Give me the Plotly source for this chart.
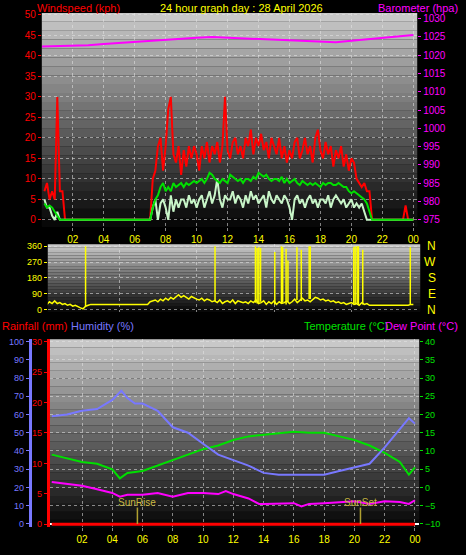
import plotly.graph_objects as go

# ---------------- DATA ----------------
# wind, 10-minute samples; each row = hour N, times N:10 .. N+1:00
gust_rows = [
 [7,9,5,7,5,30],[7,7,0,0,0,0],[0]*6,[0]*6,[0]*6,[0]*6,[0]*6,
 [10,12,18,20,12,18],[27,30,16,14,18,11],[17,13,18,15,18,16],[12,18,15,19,14,18],
 [16,19,14,18,30,17],[15,19,20,16,18,15],[20,18,22,16,20,18],[21,17,19,15,20,18],
 [16,20,15,18,14,17],[15,19,20,15,17,20],[16,18,14,20,22,17],[15,19,16,18,13,17],
 [15,18,13,16,12,15],[14,10,9,8,9,7],[7,0,0,0,0,0],[0]*6,[0,0,3.5,0,0,0]]
avg_rows = [
 [4,3,3.5,3,2,1],[0]*6,[0]*6,[0]*6,[0]*6,[0]*6,[0]*6,
 [3,5,6,8,9,7],[8,7,9,8,8.5,9],[8,9,8.5,9,9.5,9],[9.5,10,9,10,11.5,11],
 [10,9.5,9,10,9.5,9],[11,10.5,10,9.5,10,9],[10,10,9.5,10.5,10,11.5],[11,10.5,11,10,9.5,10],
 [10,9.5,10.5,9,10,9],[9.5,10,9,8.5,9.5,9],[8.5,9,8.5,9,8.5,8],[9,8.5,9,9,8.5,8.5],
 [9,8.5,8,8,7,6.5],[7,6.5,6,5.5,5,4],[2,0,0,0,0,0],[0]*6,[0]*6]
speed_rows = [
 [5,3,3,1,0,2],[0]*6,[0]*6,[0]*6,[0]*6,[0]*6,[0]*6,
 [3,5,0,4,5,3],[0,6,2,5,3,5],[5,3,6,4,5,3],[5,6,3,5,7,4],
 [6,10,5,3,6,5],[5,7,4,6,5,3],[6,4,7,5,6,4],[5,6,3,7,5,4],
 [6,5,4,6,5,3],[0,5,6,4,5,3],[5,6,4,5,3,5],[5,4,6,3,5,6],
 [5,4,5,3,4,5],[3,4,3,4,2,0],[0]*6,[0]*6,[0]*6]
dir_rows = [
 [40,30,45,35,50,35],[40,30,35,25,30,20],[25,15,10,5,20,25],[30]*6,[30]*6,[30]*6,
 [30,30,30,30,30,45],[50,55,45,60,50,65],[55,70,60,75,85,70],[80,70,60,75,65,60],
 [55,65,50,60,55,45],[50,40,55,35,45,50],[40,55,35,50,45,40],[45,35,50,40,55,35],
 [40,50,30,45,35,50],[30,45,35,40,50,35],[45,60,40,55,65,50],[55,45,60,70,65,55],
 [60,50,55,45,50,40],[45,35,40,30,35,40],[30,35,25,40,30,35],[25]*6,[25]*6,
 [25,25,25,25,30,30]]
spike_hours = [2.83,11.19,13.8,13.91,14.02,14.13,15.05,15.48,15.56,15.78,15.9,
               16.48,16.76,17.27,17.34,20.15,20.24,20.37,20.45,20.73,23.8]
spike_tops = [360,360,360,350,355,350,328,360,355,345,280,355,340,360,360,355,360,360,360,340,355]
spike_base = [20,50,40,35,40,45,30,35,40,30,45,55,50,60,60,35,30,35,30,30,30]

baro_hours = list(range(25))
baro = [1022.3,1022.4,1022.5,1022.7,1023.0,1023.3,1023.7,1024.0,1024.3,1024.5,1024.7,1024.9,
        1024.7,1024.6,1024.5,1024.2,1024.0,1023.7,1023.5,1023.5,1023.9,1024.3,1024.7,1025.1,1025.5]

th_hours = [0,1,2,3,4,4.6,5,5.5,6,7,8,9,10,11,12,13,14,15,16,17,18,19,20,21,22,23,23.6,24]
humidity = [59,60,62,63,68,73,69,66,66,62,53,50,44,38,35,32,28,27,27,27,27,29,31,33,42,52,58,55]
temp_hours = [0,1,2,3,4,4.5,5,6,7,8,9,10,11,12,13,14,15,16,17,18,19,20,21,22,23,23.6,24]
temperature = [9,8,7,6.5,5,2.5,4,4.5,6,7.5,9,10.5,11.5,13,14,14.5,15,15.3,15,15,14,13,11.5,9.5,7,3.5,5.5]
dew_hours = [0,1,2,3,4,4.5,5,6,7,8,9,10,11,11.5,12,13,13.7,14,15,16,16.5,17,18,19,20,21,22,23,23.6,24]
dewpoint = [1.5,1,0.5,-0.5,-1.5,-2.5,-2,-2,-1.5,-2.5,-1.5,-1.5,-1.8,-1,-1.8,-3,-4.5,-4.5,-4.5,-4.3,
            -5.2,-4.5,-4.3,-4,-3.8,-4.5,-3.8,-4,-4.5,-3.5]
rain_hours = [0, 24]
rain = [0, 0]
sunrise, sunset = 5.66, 20.4

tick_vals = [2,4,6,8,10,12,14,16,18,20,22,24]
tick_text = ["02","04","06","08","10","12","14","16","18","20","22","00"]

def flat(rows):
    return [v for r in rows for v in r]
t10 = [(i + 1) / 6 for i in range(144)]
gust, avg, speed, wdir = flat(gust_rows), flat(avg_rows), flat(speed_rows), flat(dir_rows)

# ---------------- FIGURE ----------------
RED, MAG, YEL, GRN, BLU = "#ff0000", "#ff00ff", "#ffff00", "#00e000", "#7878ff"
fig = go.Figure()
fig.add_trace(go.Scatter(x=t10, y=gust, mode="lines", line=dict(color=RED, width=2), xaxis="x", yaxis="y"))
fig.add_trace(go.Scatter(x=t10, y=speed, mode="lines", line=dict(color="#c8f5c8", width=2), xaxis="x", yaxis="y"))
fig.add_trace(go.Scatter(x=t10, y=avg, mode="lines", line=dict(color=GRN, width=2), xaxis="x", yaxis="y"))
fig.add_trace(go.Scatter(x=baro_hours, y=baro, mode="lines", line=dict(color=MAG, width=2), xaxis="x", yaxis="y2"))

fig.add_trace(go.Scatter(x=t10, y=wdir, mode="lines", line=dict(color=YEL, width=1.5), xaxis="x2", yaxis="y3"))
sx, sy = [], []
for h, b, tp in zip(spike_hours, spike_base, spike_tops):
    sx += [h, h, None]; sy += [b, tp, None]
fig.add_trace(go.Scatter(x=sx, y=sy, mode="lines", line=dict(color=YEL, width=1.5), xaxis="x2", yaxis="y3"))

fig.add_trace(go.Scatter(x=rain_hours, y=rain, mode="lines", line=dict(color=RED, width=3), xaxis="x3", yaxis="y5"))
fig.add_trace(go.Scatter(x=th_hours, y=humidity, mode="lines", line=dict(color=BLU, width=2), xaxis="x3", yaxis="y4"))
fig.add_trace(go.Scatter(x=temp_hours, y=temperature, mode="lines", line=dict(color=GRN, width=2), xaxis="x3", yaxis="y6"))
fig.add_trace(go.Scatter(x=dew_hours, y=dewpoint, mode="lines", line=dict(color=MAG, width=2), xaxis="x3", yaxis="y6"))

W, H = 466, 555
def dom(top, bot): return [1 - bot / H, 1 - top / H]
grid = dict(showgrid=True, gridcolor="rgba(230,230,230,0.55)", griddash="dot", gridwidth=1, zeroline=False)
xcommon = dict(tickvals=tick_vals, ticktext=tick_text, tickfont=dict(color=YEL, size=10, family="Liberation Sans"),
               ticks="outside", ticklen=3, tickcolor="#888", **grid)

fig.update_layout(
    width=W, height=H, margin=dict(l=0, r=0, t=0, b=0), showlegend=False,
    paper_bgcolor="black", plot_bgcolor="#101010",
    xaxis=dict(domain=[42/W, 419/W], range=[0, 24.25], anchor="y", **xcommon),
    yaxis=dict(domain=dom(10, 226), range=[-1.63, 50.5], tickvals=list(range(0, 51, 5)),
               tickfont=dict(color=RED, size=10, family="Liberation Sans"), ticks="outside", ticklen=3, tickcolor=RED, **grid),
    yaxis2=dict(overlaying="y", side="right", anchor="x", range=[973.2, 1031.5], tickvals=list(range(975, 1031, 5)),
                tickfont=dict(color=MAG, size=10, family="Liberation Sans"), ticks="outside", ticklen=3, tickcolor=MAG, showgrid=False),
    xaxis2=dict(domain=[48/W, 422/W], range=[0.39, 24.44], anchor="y3", showticklabels=False, **grid),
    yaxis3=dict(domain=dom(244, 312), range=[-11, 371], tickvals=[0, 90, 180, 270, 360], anchor="x2",
                tickfont=dict(color=YEL, size=9, family="Liberation Sans"), ticks="outside", ticklen=3, tickcolor=YEL, **grid),
    xaxis3=dict(domain=[50/W, 421/W], range=[-0.13, 24.28], anchor="y6", **xcommon),
    yaxis6=dict(domain=dom(340, 530), range=[-10.9, 40.6], tickvals=list(range(-10, 41, 5)), side="right", anchor="x3",
                tickfont=dict(color=GRN, size=9, family="Liberation Sans"), ticks="outside", ticklen=3, tickcolor=GRN, **grid),
    yaxis4=dict(overlaying="y6", anchor="free", position=30/W, side="left", range=[-1.8, 101.2], tickvals=list(range(0, 101, 10)),
                tickfont=dict(color=BLU, size=9, family="Liberation Sans"), ticks="outside", ticklen=3, tickcolor=BLU,
                showline=True, linecolor=BLU, linewidth=3, showgrid=False),
    yaxis5=dict(overlaying="y6", anchor="free", position=48/W, side="left", range=[-0.5, 30.4], tickvals=list(range(0, 31, 5)),
                tickfont=dict(color=RED, size=9, family="Liberation Sans"), ticks="outside", ticklen=3, tickcolor=RED,
                showline=True, linecolor=RED, linewidth=3, showgrid=False),
)

# gradient backgrounds
shapes = []
N = 24
for xr, yr in [("x domain", "y domain"), ("x2 domain", "y3 domain"), ("x3 domain", "y6 domain")]:
    for i in range(N):
        g = int(200 * (1 - i / N))
        shapes.append(dict(type="rect", xref=xr, yref=yr, x0=0, x1=1, y0=1 - (i + 1) / N, y1=1 - i / N,
                           fillcolor=f"rgb({g},{g},{g})", line=dict(width=0), layer="below"))
for h in (sunrise, sunset):
    shapes.append(dict(type="line", xref="x3", yref="y6", x0=h, x1=h, y0=-10, y1=-5.5,
                       line=dict(color="#b0a030", width=1.5)))
fig.update_layout(shapes=shapes)

F = "Liberation Sans"
ann = [
    dict(text="Windspeed (kph)", x=35, y=5, color=RED, xa="left"),
    dict(text="24 hour graph day : 28 April 2026", x=243, y=5, color=YEL, xa="center"),
    dict(text="Barometer (hpa)", x=462, y=5, color=MAG, xa="right"),
    dict(text="Rainfall (mm)", x=0, y=327, color=RED, xa="left"),
    dict(text="Humidity (%)", x=69, y=327, color=BLU, xa="left"),
    dict(text="Temperature (°C)", x=392, y=327, color=GRN, xa="right"),
    dict(text="Dew Point (°C)", x=462, y=327, color=MAG, xa="right"),
]
annotations = [dict(text=a["text"], x=a["x"]/W, y=1 - a["y"]/H, xref="paper", yref="paper", showarrow=False,
                    xanchor=a["xa"], yanchor="middle", font=dict(color=a["color"], size=11, family=F)) for a in ann]
for lab, yy in zip(["N", "W", "S", "E", "N"], [360, 270, 180, 90, 0]):
    annotations.append(dict(text=lab, x=440/W, xref="paper", y=yy, yref="y3", showarrow=False,
                            font=dict(color=YEL, size=12, family=F)))
for lab, h in (("SunRise", sunrise), ("SunSet", sunset)):
    annotations.append(dict(text=lab, x=h, xref="x3", y=-4.2, yref="y6", showarrow=False,
                            font=dict(color="#c8b840", size=10, family=F)))
fig.update_layout(annotations=annotations)

fig.write_html("out.html", config={"displayModeBar": False},
               post_script="document.body.style.margin='0';document.body.style.background='black';")
